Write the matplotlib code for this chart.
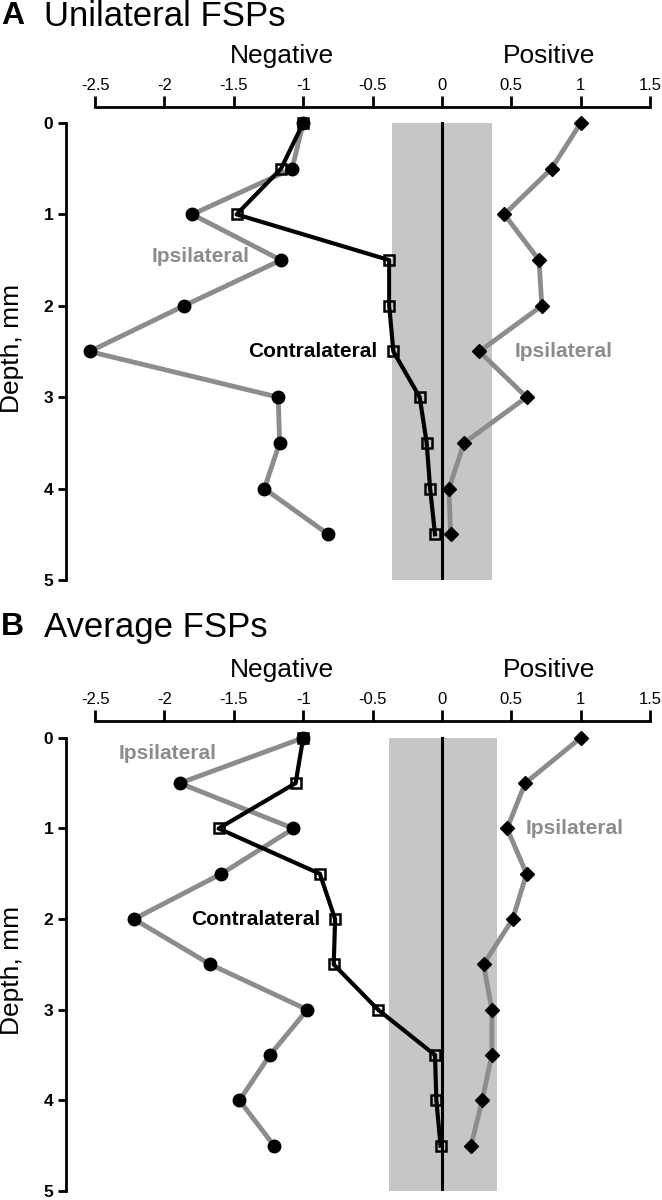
import numpy as np
import matplotlib.pyplot as plt
from matplotlib.transforms import blended_transform_factory

plt.rcParams['font.family'] = ['Liberation Sans', 'DejaVu Sans']

depth = [0, 0.5, 1, 1.5, 2, 2.5, 3, 3.5, 4, 4.5]

# panel A, unilateral FSPs
uni_ipsi_neg = [-1.0, -1.08, -1.80, -1.16, -1.86, -2.54, -1.18, -1.17, -1.28, -0.82]
uni_contra = [-1.0, -1.16, -1.48, -0.38, -0.38, -0.35, -0.16, -0.11, -0.085, -0.05]
uni_ipsi_pos = [1.0, 0.79, 0.45, 0.70, 0.72, 0.27, 0.61, 0.16, 0.05, 0.063]
uni_band = (-0.36, 0.36)

# panel B, average FSPs
avg_ipsi_neg = [-1.0, -1.89, -1.07, -1.59, -2.22, -1.67, -0.97, -1.24, -1.46, -1.21]
avg_contra = [-1.0, -1.055, -1.61, -0.88, -0.77, -0.78, -0.46, -0.05, -0.04, -0.01]
avg_ipsi_pos = [1.0, 0.60, 0.47, 0.61, 0.51, 0.30, 0.36, 0.36, 0.29, 0.21]
avg_band = (-0.385, 0.40)

xticks = [-2.5, -2, -1.5, -1, -0.5, 0, 0.5, 1, 1.5]
xticklabels = ['-2.5', '-2', '-1.5', '-1', '-0.5', '0', '0.5', '1', '1.5']
yticks = [0, 1, 2, 3, 4, 5]

gray = '#8c8c8c'
W, H = 662, 1200

fig = plt.figure(figsize=(6.62, 12), dpi=100)


def panel(top_px, bottom_px, letter, title, title_px, ytop, ipsi_neg, contra, ipsi_pos, band, labels, ylab_y):
    rect = [66 / W, 1 - bottom_px / H, 584 / W, (bottom_px - top_px) / H]
    ax = fig.add_axes(rect)
    ax.axvspan(band[0], band[1], ymin=0, ymax=5 / (5 - ytop), color='#c6c6c6', lw=0, zorder=0)
    ax.plot([0, 0], [0, 5], color='black', lw=2.2, zorder=1)
    ax.plot(ipsi_neg, depth, color=gray, lw=3.5, marker='o', ms=9,
            mfc='black', mec='black', zorder=2)
    ax.plot(ipsi_pos, depth, color=gray, lw=3.5, marker='D', ms=7,
            mfc='black', mec='black', zorder=2)
    ax.plot(contra, depth, color='black', lw=3, marker='s', ms=7.5,
            mfc='none', mec='black', mew=1.8, zorder=3)

    ax.set_xlim(-2.71, 1.5)
    ax.set_ylim(5, ytop)
    ax.xaxis.tick_top()
    ax.set_xticks(xticks)
    ax.set_xticklabels(xticklabels, fontsize=12)
    ax.set_yticks(yticks)
    ax.set_yticklabels([str(t) for t in yticks], fontsize=12.5, fontweight='bold')
    ax.tick_params(axis='x', direction='out', length=8, width=2, pad=2)
    ax.tick_params(axis='y', direction='out', length=6, width=2, pad=3)
    for s in ['right', 'bottom']:
        ax.spines[s].set_visible(False)
    ax.spines['top'].set_linewidth(2)
    ax.spines['left'].set_linewidth(2)
    ax.spines['top'].set_bounds(-2.5, 1.5)
    ax.spines['left'].set_bounds(0, 5)
    ax.set_facecolor('none')

    ax.set_ylabel('Depth, mm', fontsize=19)
    ax.yaxis.set_label_coords(-0.072, ylab_y)

    tr = blended_transform_factory(ax.transData, fig.transFigure)
    neg_y = 1 - (top_px - 51) / H
    ax.text(-1.15, neg_y, 'Negative', transform=tr, ha='center', va='center', fontsize=19)
    ax.text(0.77, neg_y, 'Positive', transform=tr, ha='center', va='center', fontsize=19)

    fig.text(0.002, 1 - title_px / H, letter, fontsize=23, fontweight='bold', va='center')
    fig.text(0.066, 1 - title_px / H, title, fontsize=25, va='center')

    for (x, y, s, c) in labels:
        ax.text(x, y, s, color=c, fontsize=15, fontweight='bold', ha='center', va='center')
    return ax


panel(107, 580, 'A', 'Unilateral FSPs', 16, -0.175,
      uni_ipsi_neg, uni_contra, uni_ipsi_pos, uni_band,
      [(-1.74, 1.46, 'Ipsilateral', gray), (-0.93, 2.5, 'Contralateral', 'black'),
       (0.88, 2.5, 'Ipsilateral', gray)], 0.49)

panel(721, 1191, 'B', 'Average FSPs', 627, -0.186,
      avg_ipsi_neg, avg_contra, avg_ipsi_pos, avg_band,
      [(-1.98, 0.17, 'Ipsilateral', gray), (-1.34, 2.0, 'Contralateral', 'black'),
       (0.955, 1.0, 'Ipsilateral', gray)], 0.47)

fig.savefig('out.png', dpi=100)
